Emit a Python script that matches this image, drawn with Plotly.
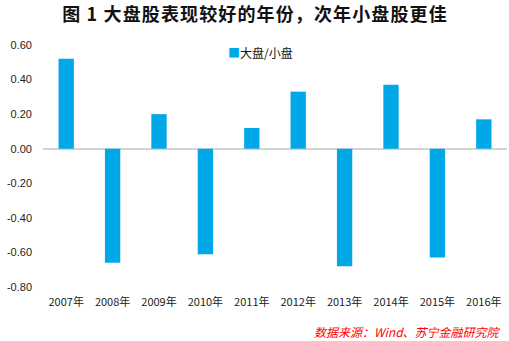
import plotly.graph_objects as go

# Yearly ratio of large-cap to small-cap performance
years = ["2007年", "2008年", "2009年", "2010年", "2011年",
         "2012年", "2013年", "2014年", "2015年", "2016年"]
ratio = [0.52, -0.66, 0.20, -0.61, 0.12, 0.33, -0.68, 0.37, -0.63, 0.17]

tick_vals = [0.6, 0.4, 0.2, 0.0, -0.2, -0.4, -0.6, -0.8]
tick_text = ["0.60", "0.40", "0.20", "0.00", "-0.20", "-0.40", "-0.60", "-0.80"]

series_name = "大盘/小盘"
title_text = "图 1 大盘股表现较好的年份，次年小盘股更佳"
source_text = "数据来源：Wind、苏宁金融研究院"

cjk = "Noto Sans CJK SC"
bar_color = "#00A8E8"

# widen the title slightly with hair spaces between glyphs
spaced_title = "\u200a".join(title_text)

fig = go.Figure()
fig.add_trace(go.Bar(
    x=years, y=ratio, name=series_name,
    marker=dict(color=bar_color, line=dict(width=0)),
    width=0.33, showlegend=False,
))

fig.update_layout(
    width=509, height=341,
    margin=dict(l=43, r=2, t=45, b=54),
    paper_bgcolor="white", plot_bgcolor="white",
    font=dict(family=cjk, size=11, color="#222222"),
    title=dict(
        text="<b>" + spaced_title + "</b>",
        x=0.5, xref="container", xanchor="center",
        y=1 - 15 / 341, yanchor="middle",
        font=dict(family=cjk, size=18, color="#111111"),
    ),
    bargap=0.67,
)

# compact legend entry: coloured square followed by the series name
fig.add_annotation(
    text=f"<span style='color:{bar_color}'>■</span>{series_name}",
    xref="paper", yref="paper", x=(226 - 43) / 464, y=(287 - 52) / 242,
    xanchor="left", yanchor="middle", showarrow=False,
    font=dict(family=cjk, size=12, color="#111111"),
)

fig.update_xaxes(
    showgrid=False, showline=False, ticks="", zeroline=False,
    tickfont=dict(family=cjk, size=11, color="#222222"),
    ticklabelstandoff=7,
)
fig.update_yaxes(
    range=[-0.8, 0.6], tickvals=tick_vals, ticktext=tick_text,
    showgrid=False, showline=False, ticks="",
    zeroline=True, zerolinecolor="#D4D4D4", zerolinewidth=1.5,
    tickfont=dict(family="Liberation Sans", size=11, color="#222222"),
    ticklabelstandoff=10,
)

fig.add_annotation(
    text="<i>" + source_text + "</i>",
    xref="paper", yref="paper", x=(503 - 43) / 464, y=-0.182,
    xanchor="right", yanchor="middle", showarrow=False,
    font=dict(family=cjk, size=12, color="#FF0000"),
)

fig.write_html("out.html")
